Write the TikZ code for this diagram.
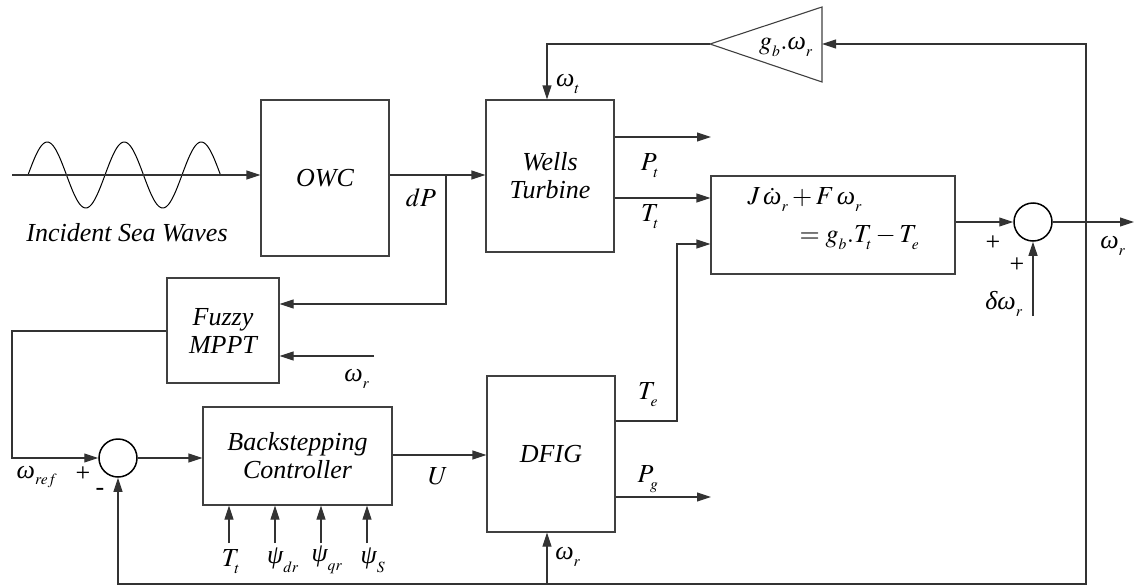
\documentclass[tikz,border=0pt]{standalone}
\usepackage{mathptmx}
\usepackage[no-math]{fontspec}
\setmainfont{Liberation Serif}
\usetikzlibrary{arrows.meta}
\renewcommand{\defaultscriptratio}{.6}
\newcommand{\sbx}[1]{_{\lower3pt\hbox{$\scriptstyle #1$}}}
\newcommand{\gom}{\mbox{\itshape ω}}
\newcommand{\gpsi}{\mbox{\itshape ψ}}
\newcommand{\gdel}{\mbox{\itshape δ}}
\begin{document}
\begin{tikzpicture}[x=1pt,y=-1pt,line width=1.1pt,
  blk/.style={draw=black!75,inner sep=0pt,align=center,font=\fontsize{26}{28}\selectfont\itshape},
  lbl/.style={inner sep=0pt,font=\fontsize{26}{28}\selectfont},
  arr/.style={draw=black!80,-{Triangle[length=14pt,width=9pt]}},
  ln/.style={draw=black!80},
  sumc/.style={circle,draw=black,line width=1.5pt,minimum size=38pt,inner sep=0pt}]
\useasboundingbox (0,0) rectangle (1134,586);
% blocks
\node[blk,minimum width=128pt,minimum height=156pt] (owc) at (325,178) {OWC};
\node[blk,minimum width=128pt,minimum height=152pt] (wells) at (550,176) {Wells\\Turbine};
\node[blk,minimum width=244pt,minimum height=98pt] (eq) at (833,225) {};
\node[blk,minimum width=112pt,minimum height=105pt] (fuzzy) at (223,330.5) {Fuzzy\\MPPT};
\node[blk,minimum width=189pt,minimum height=98pt] (back) at (297.5,456) {Backstepping\\Controller};
\node[blk,minimum width=128pt,minimum height=156pt] (dfig) at (551,454) {DFIG};
\node[sumc] (s1) at (1033,222) {};
\node[sumc] (s2) at (118,458) {};
% gain triangle
\coordinate (gT) at (710,44);
\coordinate (gR) at (822,44);
\draw[draw=black!75] (gT) -- (822,7) -- (822,82) -- cycle;
\node[lbl] (gl) at (786,47) {$g\sbx{b}.\gom\sbx{r}$};
% equation text
\node[lbl,anchor=west] (eq1) at (747,200) {$J\,\dot{\gom}\sbx{r}+F\,\gom\sbx{r}$};
\node[lbl,anchor=west] (eq2) at (799,238) {$=g\sbx{b}.T\sbx{t}-T\sbx{e}$};
% sea waves
\coordinate (win) at (12,175);
\draw[black,line width=1pt,domain=28:220.5,samples=160,smooth] plot (\x,{175-33*sin(((\x-28)/77)*360)});
\node[lbl,font=\fontsize{26}{28}\selectfont\itshape] (isw) at (127,233) {Incident Sea Waves};
\draw[arr] (win) -- (win -| owc.west);
% OWC to Wells
\coordinate (br) at (446,175);
\draw[ln] (owc.east |- win) -- (br);
\draw[arr] (br) -- (br -| wells.west);
\node[lbl] (ldp) at (421,198) {$dP$};
% dP to Fuzzy
\coordinate (yA) at (0,304);
\draw[arr] (br) |- (fuzzy.east |- yA);
\coordinate (wr1) at (374,356);
\draw[arr] (wr1) -- (fuzzy.east |- wr1);
\node[lbl] (lwr1) at (357,379) {$\gom\sbx{r}$};
% Fuzzy output to sum2
\coordinate (yF) at (0,331);
\coordinate (xL) at (12,0);
\draw[arr] (fuzzy.west |- yF) -- (xL |- yF) -- (xL |- s2) -- (s2.west);
\node[lbl] (lwref) at (37,477) {$\gom\sbx{ref}$};
\node[lbl] (lp2) at (83,474) {+};
\node[lbl] (lm2) at (100,492) {-};
% sum2 to backstepping
\draw[arr] (s2.east) -- (s2.east -| back.west);
% backstepping inputs
\foreach \xx/\i in {229/1,275/2,321/3,367/4}{
  \coordinate (bi\i) at (\xx,543);
  \draw[arr] (bi\i) -- (bi\i |- back.south);
}
\node[lbl] (lbt) at (231,562) {$T\sbx{t}$};
\node[lbl] (lb2) at (283,560) {$\gpsi\sbx{dr}$};
\node[lbl] (lb3) at (327,560) {$\gpsi\sbx{qr}$};
\node[lbl] (lb4) at (373,560) {$\gpsi\sbx{S}$};
% backstepping to DFIG
\coordinate (yU) at (0,455);
\draw[arr] (back.east |- yU) -- (dfig.west |- yU);
\node[lbl] (lu) at (438,476) {$U$};
% DFIG outputs
\coordinate (yTe) at (0,421);
\coordinate (xTe) at (677,0);
\coordinate (yTe2) at (0,244);
\draw[arr] (dfig.east |- yTe) -- (xTe |- yTe) -- (xTe |- yTe2) -- (eq.west |- yTe2);
\node[lbl] (lte) at (648,395) {$T\sbx{e}$};
\coordinate (pg) at (711,497);
\draw[arr] (dfig.east |- pg) -- (pg);
\node[lbl] (lpg) at (648,479) {$P\sbx{g}$};
% Wells outputs
\coordinate (pt) at (711,137);
\draw[arr] (wells.east |- pt) -- (pt);
\node[lbl] (lpt) at (650,166) {$P\sbx{t}$};
\coordinate (yTt) at (0,198);
\draw[arr] (wells.east |- yTt) -- (eq.west |- yTt);
\node[lbl] (ltt) at (650,217) {$T\sbx{t}$};
% eq to sum1 and output
\draw[arr] (eq.east |- s1) -- (s1.west);
\coordinate (out) at (1134,222);
\draw[arr] (s1.east) -- (out);
\node[lbl] (lwo) at (1113,246) {$\gom\sbx{r}$};
\node[lbl] (lp1a) at (993,243) {+};
\node[lbl] (lp1b) at (1017,265) {+};
\coordinate (dw) at (1033,316);
\draw[arr] (dw) -- (s1.south);
\node[lbl] (ldw) at (1004,304) {$\gdel\gom\sbx{r}$};
% feedback
\coordinate (tap) at (1086,222);
\coordinate (yB) at (0,584);
\draw[arr] (tap) -- (tap |- yB) -| (s2.south);
\draw[arr] ([xshift=-4pt]dfig.south |- yB) -- ([xshift=-4pt]dfig.south);
\node[lbl] (lwd) at (568,557) {$\gom\sbx{r}$};
\draw[arr] (tap) |- (gR);
\draw[arr] (gT) -| ([xshift=-3pt]wells.north);
\node[lbl] (lwt) at (568,84) {$\gom\sbx{t}$};
\end{tikzpicture}
\end{document}
